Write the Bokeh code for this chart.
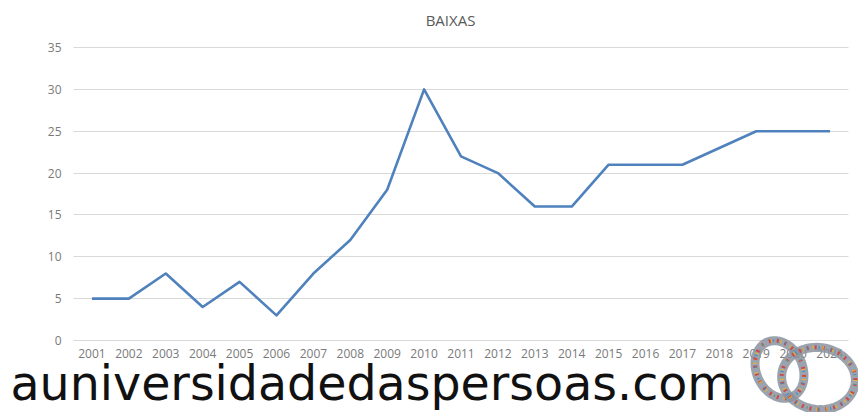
import numpy as np
from bokeh.plotting import figure
from bokeh.models import Label, PolyAnnotation, FixedTicker
from bokeh.embed import file_html
from bokeh.resources import INLINE

years = [2001, 2002, 2003, 2004, 2005, 2006, 2007, 2008, 2009, 2010, 2011,
         2012, 2013, 2014, 2015, 2016, 2017, 2018, 2019, 2020, 2021]
baixas = [5, 5, 8, 4, 7, 3, 8, 12, 18, 30, 22, 20, 16, 16, 21, 21, 21, 23, 25, 25, 25]
y_ticks = [0, 5, 10, 15, 20, 25, 30, 35]
title_text = "BAIXAS"
watermark = "auniversidadedaspersoas.com"

W, H = 858, 412
# pixel layout of the reference chart area
X0_PX, STEP_PX = 91.45, 36.905      # centre of first year, spacing
Y0_PX, Y35_PX = 340.0, 47.0         # pixel rows of value 0 and 35


def px_to_x(px):
    return years[0] + (px - X0_PX) / STEP_PX


def py_to_y(py):
    return (Y0_PX - py) * 35.0 / (Y0_PX - Y35_PX)


p = figure(width=W, height=H,
           x_range=(px_to_x(0), px_to_x(W)), y_range=(py_to_y(H), py_to_y(0)),
           output_backend="svg", toolbar_location=None,
           min_border=0, min_border_left=0, min_border_right=0,
           min_border_top=0, min_border_bottom=0)
p.outline_line_color = None
p.background_fill_color = "white"
p.border_fill_color = "white"

left_edge = years[0] - 0.5
right_edge = years[-1] + 0.5

p.xgrid.grid_line_color = None
p.ygrid.grid_line_color = "#d9d9d9"
p.ygrid.grid_line_width = 1
p.ygrid.ticker = FixedTicker(ticks=y_ticks)
try:
    p.ygrid.cross_bounds = (left_edge, right_edge)
except Exception:
    p.ygrid.grid_line_color = None
    p.segment(x0=[left_edge] * len(y_ticks), y0=y_ticks,
              x1=[right_edge] * len(y_ticks), y1=y_ticks,
              line_color="#d9d9d9", line_width=1)

p.line(years, baixas, line_color="#4f81bd", line_width=2.6, line_join="round")

p.xaxis.fixed_location = 0
p.yaxis.fixed_location = left_edge
p.xaxis.ticker = FixedTicker(ticks=years)
p.xaxis.major_label_overrides = {y: str(y) for y in years}
p.yaxis.ticker = FixedTicker(ticks=y_ticks)
p.yaxis.major_label_overrides = {v: str(v) for v in y_ticks}
for ax in (p.xaxis, p.yaxis):
    ax.axis_line_color = None
    ax.major_tick_line_color = None
    ax.minor_tick_line_color = None
    ax.major_tick_in = 0
    ax.major_tick_out = 0
    ax.major_label_text_color = "#7a7a7a"
    ax.major_label_text_font = "Open Sans"
    ax.major_label_text_font_size = "12px"
p.yaxis.major_label_standoff = 12
p.xaxis.major_label_standoff = 8

p.add_layout(Label(x=px_to_x(450), y=py_to_y(19), text=title_text,
                   text_align="center", text_baseline="middle",
                   text_color="#595959", text_font="Open Sans",
                   text_font_size="15px"))

p.add_layout(Label(x=px_to_x(10), y=py_to_y(383), text=watermark,
                   text_align="left", text_baseline="alphabetic",
                   text_color="#111111", text_font="DejaVu Sans",
                   text_font_size="47.5px"))

# decorative logo: two interlocked rings made of people
t = np.linspace(0, 2 * np.pi, 80)
for cx, cy, rx, ry, ang in [(779, 369, 23, 30, -0.45), (818, 378, 37, 31, 0.15)]:
    ex = cx + rx * np.cos(t) * np.cos(ang) - ry * np.sin(t) * np.sin(ang)
    ey = cy + rx * np.cos(t) * np.sin(ang) + ry * np.sin(t) * np.cos(ang)
    xs = [px_to_x(v) for v in ex]
    ys = [py_to_y(v) for v in ey]
    p.add_layout(PolyAnnotation(xs=xs, ys=ys, fill_alpha=0, line_alpha=0.85,
                                line_color="#8a94a0", line_width=9))
    p.add_layout(PolyAnnotation(xs=xs, ys=ys, fill_alpha=0, line_alpha=1,
                                line_color="#d04848", line_width=4, line_dash="2 6"))
    p.add_layout(PolyAnnotation(xs=xs, ys=ys, fill_alpha=0, line_alpha=1,
                                line_color="#e6b52e", line_width=4, line_dash="1 9"))
    p.add_layout(PolyAnnotation(xs=xs, ys=ys, fill_alpha=0, line_alpha=1,
                                line_color="#3a8fc8", line_width=3, line_dash="1 11"))

open("out.html", "w").write(file_html(p, INLINE))
